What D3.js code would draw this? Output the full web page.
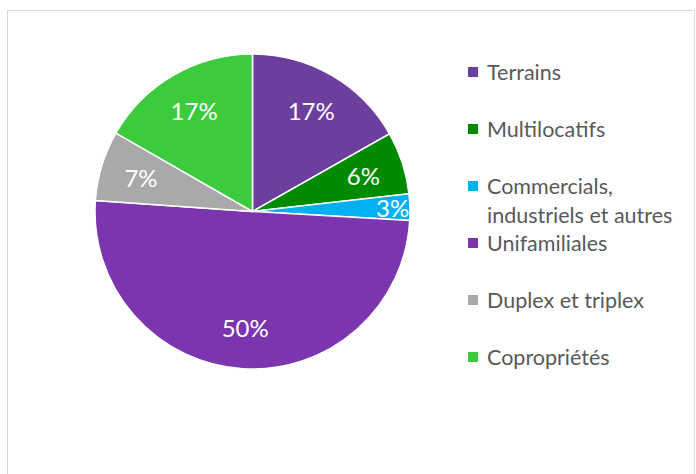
<!DOCTYPE html>
<meta charset="utf-8">
<script src="https://d3js.org/d3.v7.min.js"></script>
<style>
  body { margin: 0; background: #fff; }
  text { font-family: Lato, "Open Sans", sans-serif; }
</style>
<div id="my_dataviz"></div>
<script>

// data (percent of total)
var categories = ["Terrains", "Multilocatifs", "Commercials, industriels et autres", "Unifamiliales", "Duplex et triplex", "Copropriétés"];
var values = [16.8, 6.4, 2.7, 50.2, 7.2, 16.7];
var legendLines = [["Terrains"], ["Multilocatifs"], ["Commercials,", "industriels et autres"], ["Unifamiliales"], ["Duplex et triplex"], ["Copropriétés"]];
var colors = ["#6C3E9E", "#008A00", "#00B0F0", "#7B35AE", "#A9A9A9", "#3CCB3C"];

var width = 696, height = 474;

var svg = d3.select("#my_dataviz")
  .append("svg")
    .attr("width", width)
    .attr("height", height);

// chart frame
svg.append("rect")
  .attr("x", 7.5).attr("y", 10.5)
  .attr("width", 687).attr("height", 480)
  .attr("fill", "#fff")
  .attr("stroke", "#d9d9d9");

var cx = 252.5, cy = 211.5, radius = 157.5;

var color = d3.scaleOrdinal().domain(categories).range(colors);

var pie = d3.pie().sort(null).value(function(d, i) { return values[i]; });
var arcs = pie(categories);

var arc = d3.arc().innerRadius(0).outerRadius(radius);

var g = svg.append("g").attr("transform", "translate(" + cx + "," + cy + ")");

g.selectAll("path")
  .data(arcs)
  .enter()
  .append("path")
    .attr("d", arc)
    .attr("fill", function(d) { return color(d.data); })
    .attr("stroke", "#fff")
    .attr("stroke-width", 1.5);

// percentage labels, small slices pushed outward
g.selectAll("text.pct")
  .data(arcs)
  .enter()
  .append("text")
    .attr("class", "pct")
    .attr("transform", function(d) {
      var r = d.value < 5 ? radius * 0.89 : radius * 0.74;
      var c = d3.arc().innerRadius(r).outerRadius(r).centroid(d);
      return "translate(" + c + ")";
    })
    .attr("text-anchor", "middle")
    .attr("dominant-baseline", "central")
    .style("font-size", "24px")
    .style("fill", "#fff")
    .text(function(d) { return Math.round(d.value) + "%"; });

// legend
var legend = svg.append("g").attr("transform", "translate(468,0)");
var rowY = 72, rowStep = 57, lineStep = 29;

categories.forEach(function(c, i) {
  var y = rowY + i * rowStep;
  legend.append("rect")
    .attr("x", 0).attr("y", y - 5)
    .attr("width", 10).attr("height", 10)
    .attr("fill", colors[i]);
  legendLines[i].forEach(function(line, j) {
    legend.append("text")
      .attr("x", 19)
      .attr("y", y + j * lineStep)
      .attr("dominant-baseline", "central")
      .style("font-size", "21.5px")
      .style("fill", "#595959")
      .text(line);
  });
});

</script>
